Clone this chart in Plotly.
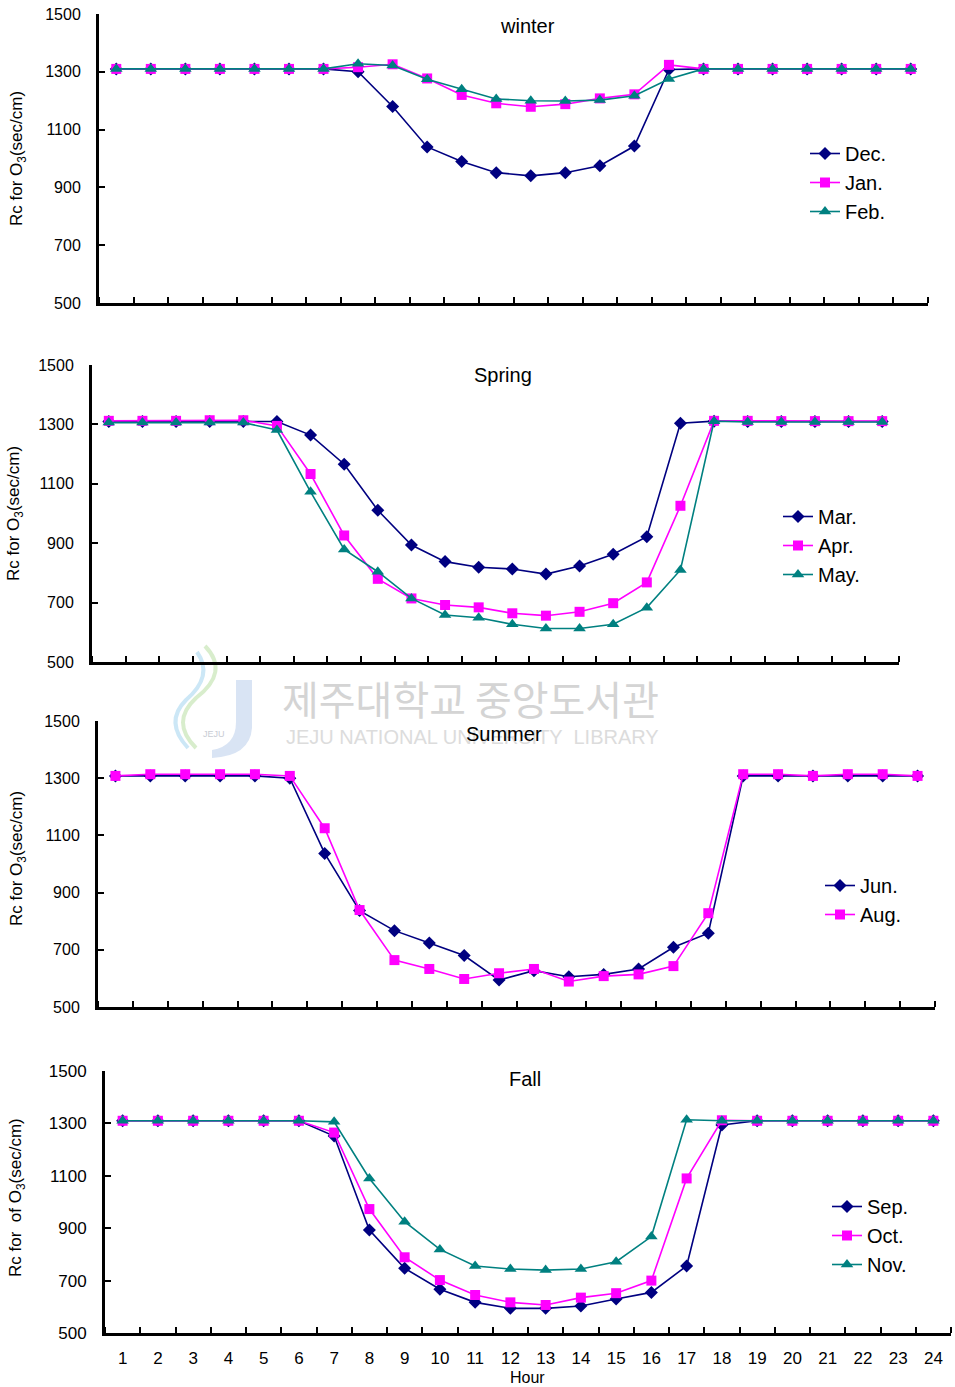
import plotly.graph_objects as go

# Hour of day
hours = list(range(1, 25))
hour_labels = [str(h) for h in hours]
y_ticks = [500, 700, 900, 1100, 1300, 1500]

# Winter (Rc for O3, sec/cm)
dec = [1310, 1310, 1310, 1310, 1310, 1310, 1310, 1300, 1180, 1040, 990, 951,
       940, 951, 975, 1043, 1308, 1310, 1310, 1310, 1310, 1310, 1310, 1310]
jan = [1310, 1310, 1310, 1310, 1310, 1310, 1310, 1316, 1326, 1277, 1220, 1191,
       1179, 1188, 1208, 1222, 1324, 1310, 1310, 1310, 1310, 1310, 1310, 1310]
feb = [1310, 1310, 1310, 1310, 1310, 1310, 1310, 1328, 1322, 1274, 1240, 1206,
       1200, 1199, 1202, 1217, 1275, 1310, 1310, 1310, 1310, 1310, 1310, 1310]

# Spring
mar = [1310, 1310, 1310, 1310, 1310, 1310, 1264, 1166, 1011, 894, 838, 819,
       813, 796, 823, 863, 922, 1304, 1311, 1310, 1310, 1310, 1310, 1310]
apr = [1312, 1312, 1312, 1314, 1314, 1295, 1133, 926, 780, 714, 692, 684,
       664, 656, 669, 698, 768, 1026, 1312, 1312, 1311, 1311, 1311, 1311]
may = [1306, 1306, 1306, 1306, 1306, 1281, 1073, 879, 804, 714, 658, 649,
       627, 613, 613, 627, 683, 810, 1311, 1308, 1308, 1308, 1308, 1308]

# Summer
jun = [1308, 1308, 1308, 1308, 1308, 1300, 1037, 837, 767, 724, 680, 594,
       627, 606, 614, 633, 709, 758, 1308, 1308, 1308, 1308, 1308, 1308]
aug = [1308, 1314, 1314, 1314, 1314, 1308, 1125, 839, 664, 633, 598, 618,
       633, 589, 608, 614, 643, 828, 1314, 1314, 1308, 1314, 1314, 1308]

# Fall
sep = [1310, 1310, 1310, 1310, 1310, 1310, 1252, 893, 747, 667, 617, 594,
       594, 603, 630, 655, 756, 1294, 1310, 1310, 1310, 1310, 1310, 1310]
oct_ = [1310, 1310, 1310, 1310, 1310, 1310, 1265, 973, 789, 702, 645, 617,
        607, 635, 652, 700, 1090, 1312, 1310, 1310, 1310, 1310, 1310, 1310]
nov = [1310, 1310, 1310, 1310, 1310, 1310, 1306, 1090, 925, 819, 756, 744,
       740, 744, 772, 868, 1314, 1310, 1310, 1310, 1310, 1310, 1310, 1310]

W, H = 955, 1387
FONT = "Liberation Sans, Arial, sans-serif"
NAVY, MAGENTA, TEAL = "#000080", "#FF00FF", "#008080"


def px_x(p):
    return p / W


def px_y(p):
    return 1 - p / H


STYLE = {
    "diamond": dict(color=NAVY, symbol="diamond", size=10),
    "square": dict(color=MAGENTA, symbol="square", size=10),
    "triangle": dict(color=TEAL, symbol="triangle-up", size=11),
}

panels = [
    dict(title="winter", box=(99, 928, 14, 303), title_xy=(527, 26),
         series=[("Dec.", dec, "diamond"), ("Jan.", jan, "square"), ("Feb.", feb, "triangle")],
         legend_xy=(805, 134), ylab="Rc for O<sub>3</sub>(sec/cm)", ylab_xy=(18, 159),
         tickfont=16),
    dict(title="Spring", box=(92, 899, 365, 662), title_xy=(503, 375),
         series=[("Mar.", mar, "diamond"), ("Apr.", apr, "square"), ("May.", may, "triangle")],
         legend_xy=(778, 497), ylab="Rc for O<sub>3</sub>(sec/cm)", ylab_xy=(15, 514),
         tickfont=16),
    dict(title="Summer", box=(98, 935, 721, 1007), title_xy=(504, 734),
         series=[("Jun.", jun, "diamond"), ("Aug.", aug, "square")],
         legend_xy=(820, 866), ylab="Rc for O<sub>3</sub>(sec/cm)", ylab_xy=(18, 859),
         tickfont=16),
    dict(title="Fall", box=(105, 951, 1071, 1333), title_xy=(525, 1079),
         series=[("Sep.", sep, "diamond"), ("Oct.", oct_, "square"), ("Nov.", nov, "triangle")],
         legend_xy=(827, 1187), ylab="Rc for  of O<sub>3</sub>(sec/cm)", ylab_xy=(17, 1198),
         tickfont=17),
]

fig = go.Figure()
layout = dict(
    width=W, height=H, margin=dict(l=0, r=0, t=0, b=0, autoexpand=False),
    paper_bgcolor="white", plot_bgcolor="white",
    font=dict(family=FONT, color="black"),
    annotations=[], shapes=[],
)


def paper_path(points):
    """SVG path in paper fractions from a list of (cmd, px, py) entries."""
    parts = []
    for cmd, *coords in points:
        xy = []
        for j in range(0, len(coords), 2):
            xy.append(f"{px_x(coords[j]):.5f},{px_y(coords[j + 1]):.5f}")
        parts.append(cmd + " ".join(xy))
    return " ".join(parts)


# Faint library watermark (logo + name) behind the summer panel
layout["shapes"] += [
    dict(type="path", xref="paper", yref="paper", layer="below",
         path=paper_path([("M", 236, 680), ("L", 252, 680), ("L", 252, 728),
                          ("Q", 250, 756, 212, 758), ("L", 212, 750),
                          ("Q", 236, 746, 236, 722), ("Z",)]),
         fillcolor="rgba(170,195,230,0.45)", line=dict(width=0)),
    dict(type="path", xref="paper", yref="paper", layer="below",
         path=paper_path([("M", 205, 646), ("Q", 230, 672, 196, 698),
                          ("Q", 170, 722, 196, 748)]),
         line=dict(color="rgba(190,225,170,0.6)", width=4)),
    dict(type="path", xref="paper", yref="paper", layer="below",
         path=paper_path([("M", 197, 652), ("Q", 214, 676, 186, 700),
                          ("Q", 164, 722, 188, 748)]),
         line=dict(color="rgba(170,215,240,0.6)", width=4)),
]
layout["annotations"] += [
    dict(text="JEJU", x=px_x(214), y=px_y(734), xref="paper", yref="paper",
         showarrow=False, xanchor="center", yanchor="middle",
         font=dict(family=FONT, size=9, color="#c8ccd4")),
    dict(text="제주대학교 중앙도서관", x=px_x(470), y=px_y(698), xref="paper", yref="paper",
         showarrow=False, xanchor="center", yanchor="middle",
         font=dict(family="Noto Sans CJK KR", size=40, color="#d4d4d4")),
    dict(text="JEJU NATIONAL UNIVERSITY  LIBRARY", x=px_x(472), y=px_y(737),
         xref="paper", yref="paper", showarrow=False, xanchor="center", yanchor="middle",
         font=dict(family=FONT, size=20, color="#dcdcdc")),
]

for i, p in enumerate(panels, start=1):
    sfx = "" if i == 1 else str(i)
    x0, x1, y0, y1 = p["box"]
    legend_name = "legend" if i == 1 else f"legend{i}"
    for name, vals, key in p["series"]:
        st = STYLE[key]
        fig.add_trace(go.Scatter(
            x=hours, y=vals, name=name, mode="lines+markers",
            line=dict(color=st["color"], width=1.6),
            marker=dict(symbol=st["symbol"], size=st["size"], color=st["color"]),
            xaxis=f"x{sfx}", yaxis=f"y{sfx}", legend=legend_name,
        ))
    bottom = (i == len(panels))
    layout[f"xaxis{sfx}"] = dict(
        domain=[px_x(x0), px_x(x1)], anchor=f"y{sfx}", range=[0.5, 24.5],
        showline=True, linecolor="black", linewidth=3, showgrid=False, zeroline=False,
        tickmode="array", tickvals=hours, ticktext=hour_labels,
        showticklabels=bottom, ticks="", ticklabelstandoff=8, automargin=False,
        tickfont=dict(size=17, family=FONT),
        minor=dict(tickmode="array", tickvals=[h - 0.5 for h in hours] + [24.5],
                   ticks="inside", ticklen=6, tickwidth=2, tickcolor="black", showgrid=False),
        fixedrange=True,
    )
    layout[f"yaxis{sfx}"] = dict(
        domain=[px_y(y1), px_y(y0)], anchor=f"x{sfx}", range=[500, 1500],
        showline=True, linecolor="black", linewidth=3, showgrid=False, zeroline=False,
        tickmode="array", tickvals=y_ticks, ticks="inside", ticklen=6, tickwidth=2,
        tickcolor="black", ticklabelstandoff=12, automargin=False,
        tickfont=dict(size=p["tickfont"], family=FONT), fixedrange=True,
    )
    lx, ly = p["legend_xy"]
    layout[legend_name] = dict(
        x=px_x(lx), y=px_y(ly), xanchor="left", yanchor="top",
        font=dict(size=20, family=FONT), bgcolor="rgba(0,0,0,0)", borderwidth=0,
        tracegroupgap=0,
    )
    tx, ty = p["title_xy"]
    layout["annotations"].append(dict(
        text=p["title"], x=px_x(tx), y=px_y(ty), xref="paper", yref="paper",
        xanchor="center", yanchor="middle",
        showarrow=False, font=dict(size=20, family=FONT)))
    yx, yy = p["ylab_xy"]
    layout["annotations"].append(dict(
        text=p["ylab"], x=px_x(yx), y=px_y(yy), xref="paper", yref="paper",
        xanchor="center", yanchor="middle",
        showarrow=False, textangle=-90, font=dict(size=17, family=FONT)))

# x-axis title of the bottom panel
layout["annotations"].append(dict(
    text="Hour", x=px_x(527), y=px_y(1377), xref="paper", yref="paper",
    xanchor="center", yanchor="middle", showarrow=False,
    font=dict(size=16, family=FONT)))

fig.update_layout(**layout)
fig.write_html("out.html")
